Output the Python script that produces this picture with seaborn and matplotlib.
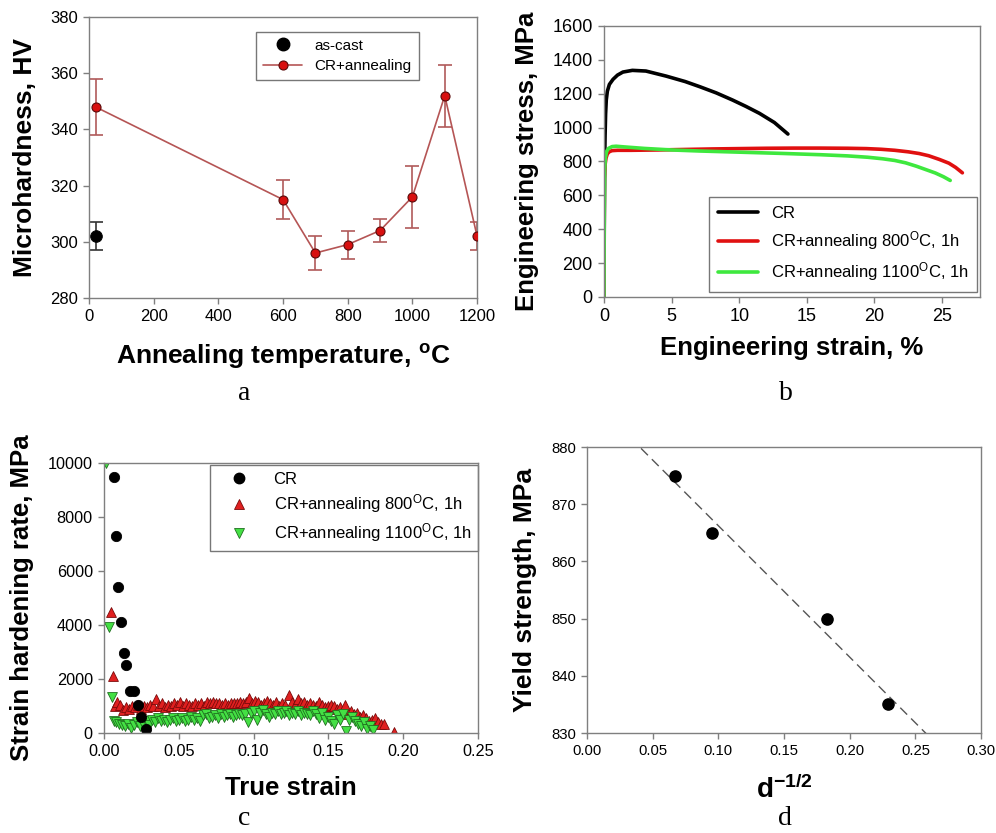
import numpy as np
import pandas as pd
import matplotlib
matplotlib.use("Agg")
import matplotlib.pyplot as plt
import seaborn as sns
from matplotlib.lines import Line2D

# ---------------- data ----------------
# (a) microhardness
temp_anneal = [20, 600, 700, 800, 900, 1000, 1100, 1200]
hv_anneal = [348, 315, 296, 299, 304, 316, 352, 302]
hv_anneal_err = [10, 7, 6, 5, 4, 11, 11, 5]
temp_cast = [20]
hv_cast = [302]
hv_cast_err = [5]

# (b) engineering stress-strain
strain_cr = [0, 0.02, 0.05, 0.08, 0.12, 0.17, 0.25, 0.4, 0.67, 1.0, 1.4, 2.1, 3.1,
             4.6, 6.0, 7.1, 8.3, 9.5, 10.5, 11.5, 12.6, 13.6]
stress_cr = [0, 400, 800, 950, 1080, 1163, 1215, 1255, 1285, 1310, 1328, 1338, 1334,
             1304, 1272, 1241, 1205, 1163, 1125, 1084, 1030, 962]
strain_800 = [0, 0.03, 0.08, 0.15, 0.25, 0.4, 0.6, 1.0, 2, 4, 6, 8, 10, 12, 14, 16,
              18, 19.4, 20.5, 21.5, 22.5, 23.3, 24.0, 24.8, 25.5, 26.0, 26.5]
stress_800 = [0, 700, 780, 820, 845, 858, 864, 866, 866, 868, 871, 874, 876, 878, 879, 879,
              878, 876, 872, 866, 857, 847, 834, 812, 790, 765, 733]
strain_1100 = [0, 0.02, 0.05, 0.1, 0.2, 0.35, 0.6, 0.9, 1.5, 3, 5, 7, 10, 13, 16, 18,
               19.5, 20.6, 21.5, 22.3, 23.1, 23.8, 24.5, 25.1, 25.6]
stress_1100 = [0, 500, 750, 820, 860, 878, 888, 890, 886, 877, 868, 862, 855, 848, 840, 833,
               825, 816, 806, 792, 772, 752, 732, 710, 688]

# (c) strain hardening rate
ts_cr = [0.0067, 0.0082, 0.0096, 0.0116, 0.0134, 0.0149, 0.0174, 0.0200, 0.0227, 0.0250, 0.0278]
shr_cr = [9480, 7280, 5420, 4100, 2980, 2510, 1560, 1560, 1040, 600, 150]

ts_800 = [0.0045, 0.006, 0.0075, 0.009, 0.011, 0.013, 0.015, 0.017, 0.019, 0.021,
          0.023, 0.025, 0.027, 0.029, 0.031, 0.033, 0.035, 0.037, 0.039, 0.041,
          0.043, 0.045, 0.047, 0.049, 0.051, 0.053, 0.055, 0.057, 0.059, 0.061,
          0.063, 0.065, 0.067, 0.069, 0.071, 0.073, 0.075, 0.077, 0.079, 0.081,
          0.083, 0.085, 0.087, 0.089, 0.091, 0.093, 0.095, 0.097, 0.099, 0.101,
          0.103, 0.105, 0.107, 0.109, 0.111, 0.113, 0.115, 0.117, 0.119, 0.121,
          0.124, 0.126, 0.128, 0.130, 0.132, 0.134, 0.136, 0.138, 0.140, 0.142,
          0.144, 0.146, 0.148, 0.150, 0.152, 0.154, 0.156, 0.158, 0.161, 0.163,
          0.165, 0.167, 0.169, 0.171, 0.173, 0.175, 0.177, 0.179, 0.181, 0.183,
          0.185, 0.187, 0.194]
shr_800 = [4470, 2100, 1000, 1150, 1050, 850, 950, 900, 1000, 950,
           1050, 900, 1000, 950, 1050, 1000, 1250, 1000, 1100, 950,
           1050, 1000, 1100, 1050, 1150, 1000, 1100, 1050, 1000, 1100,
           1050, 1100, 1000, 1150, 1100, 1150, 1100, 1100, 1050, 1100,
           1050, 1100, 1100, 1100, 1150, 1100, 1150, 1280, 1100, 1200,
           1150, 1050, 1100, 1200, 1100, 1050, 1150, 1000, 1100, 1050,
           1400, 1150, 1050, 1250, 1100, 1150, 1050, 1100, 1050, 1000,
           1150, 1050, 950, 1000, 1050, 1000, 900, 950, 1030, 700,
           800, 700, 750, 600, 650, 550, 450, 500, 550, 400,
           320, 350, 30]

ts_1100 = [0.0016, 0.0033, 0.0052, 0.0065, 0.008, 0.010, 0.012, 0.014, 0.016, 0.018,
           0.020, 0.022, 0.024, 0.026, 0.028, 0.030, 0.032, 0.034, 0.036, 0.038,
           0.040, 0.042, 0.044, 0.046, 0.048, 0.050, 0.052, 0.054, 0.056, 0.058,
           0.060, 0.062, 0.064, 0.066, 0.068, 0.070, 0.072, 0.074, 0.076, 0.078,
           0.080, 0.082, 0.084, 0.086, 0.088, 0.090, 0.092, 0.094, 0.096, 0.098,
           0.100, 0.102, 0.104, 0.106, 0.108, 0.110, 0.112, 0.114, 0.116, 0.118,
           0.120, 0.122, 0.124, 0.126, 0.128, 0.130, 0.132, 0.134, 0.136, 0.138,
           0.140, 0.142, 0.144, 0.146, 0.148, 0.150, 0.152, 0.154, 0.156, 0.158,
           0.160, 0.162, 0.164, 0.166, 0.168, 0.170, 0.172, 0.174, 0.176, 0.178,
           0.180]
shr_1100 = [10000, 3940, 1340, 450, 400, 350, 300, 250, 350, 200,
            300, 400, 250, 350, 450, 300, 500, 400, 550, 450,
            500, 400, 500, 550, 450, 500, 550, 450, 500, 600,
            500, 550, 450, 650, 700, 550, 600, 650, 550, 700,
            600, 650, 700, 600, 650, 700, 650, 700, 420, 750,
            800, 500, 750, 850, 700, 600, 750, 700, 800, 700,
            750, 800, 650, 750, 700, 800, 650, 750, 700, 650,
            800, 700, 550, 750, 500, 600, 450, 350, 650, 500,
            700, 80, 500, 600, 450, 350, 250, 400, 150, 250,
            100]

# (d) Hall-Petch
d_inv_sqrt = [0.067, 0.095, 0.183, 0.229]
yield_strength = [875, 865, 850, 835]

# ---------------- style ----------------
sns.set_theme(style="white")
plt.rcParams["font.family"] = ["Liberation Sans", "DejaVu Sans"]
plt.rcParams["mathtext.fontset"] = "custom"
plt.rcParams["mathtext.rm"] = "Liberation Sans"
plt.rcParams["mathtext.it"] = "Liberation Sans:italic"
plt.rcParams["mathtext.bf"] = "Liberation Sans:bold"
plt.rcParams["text.color"] = "black"
plt.rcParams["axes.labelcolor"] = "black"
plt.rcParams["xtick.color"] = "black"
plt.rcParams["ytick.color"] = "black"

SPINE = "#7f7f7f"
LBL = 18.5

fig = plt.figure(figsize=(9.96, 8.33), dpi=100)
ax_a = fig.add_axes([0.0894, 0.6423, 0.3896, 0.3373])
ax_b = fig.add_axes([0.6064, 0.6435, 0.3775, 0.3253])
ax_c = fig.add_axes([0.1044, 0.1200, 0.3755, 0.3241])
ax_d = fig.add_axes([0.5894, 0.1200, 0.3956, 0.3433])


def style(ax, tsize):
    for s in ax.spines.values():
        s.set_color(SPINE)
        s.set_linewidth(1.0)
        s.set_visible(True)
    ax.tick_params(axis="both", direction="out", length=4, width=1, color=SPINE,
                   labelsize=tsize, labelcolor="black", bottom=True, left=True,
                   top=False, right=False, pad=4)
    ax.grid(False)
    ax.set_facecolor("white")


# ---------- (a) ----------
df_a = pd.DataFrame({"T": temp_anneal, "HV": hv_anneal})
ax_a.errorbar(temp_anneal, hv_anneal, yerr=hv_anneal_err, fmt="none",
              ecolor="#b05a5a", elinewidth=1.2, capsize=5, capthick=1.2, zorder=2)
ax_a.errorbar(temp_cast, hv_cast, yerr=hv_cast_err, fmt="none",
              ecolor="#333333", elinewidth=1.2, capsize=5, capthick=1.2, zorder=2)
sns.lineplot(data=df_a, x="T", y="HV", ax=ax_a, color="#b55555", linewidth=1.2,
             marker="o", markersize=6.5, markerfacecolor="#d81010",
             markeredgecolor="#5a0a0a", markeredgewidth=0.8, zorder=3)
sns.scatterplot(x=temp_cast, y=hv_cast, ax=ax_a, color="black", s=70,
                edgecolor="black", alpha=1, zorder=4)
ax_a.set_xlim(0, 1200)
ax_a.set_ylim(280, 380)
ax_a.set_xticks(range(0, 1201, 200))
ax_a.set_yticks(range(280, 381, 20))
style(ax_a, 12)
ax_a.set_xlabel(r"Annealing temperature, $^{\mathbf{o}}$C", fontsize=19, fontweight="bold")
ax_a.set_ylabel("Microhardness, HV", fontsize=19, fontweight="bold")
ax_a.xaxis.set_label_coords(0.5, -0.21)
ax_a.xaxis.label.set_va("center")
ax_a.yaxis.set_label_coords(-0.165, 0.5)
ax_a.yaxis.label.set_va("center")
h_a = [Line2D([], [], ls="none", marker="o", ms=9, mfc="black", mec="black"),
       Line2D([], [], color="#b55555", lw=1.2, marker="o", ms=6.5, mfc="#d81010",
              mec="#5a0a0a", mew=0.8)]
leg = ax_a.legend(h_a, ["as-cast", "CR+annealing"], loc="upper left",
                  bbox_to_anchor=(0.43, 0.947), borderaxespad=0, fontsize=11,
                  frameon=True, fancybox=False, edgecolor="#555555", handlelength=2.6,
                  borderpad=0.45, labelspacing=0.4, handletextpad=0.8)
leg.get_frame().set_linewidth(1.0)

# ---------- (b) ----------
df_b = pd.concat([
    pd.DataFrame({"strain": strain_cr, "stress": stress_cr, "grp": "CR"}),
    pd.DataFrame({"strain": strain_800, "stress": stress_800, "grp": "800"}),
    pd.DataFrame({"strain": strain_1100, "stress": stress_1100, "grp": "1100"}),
], ignore_index=True)
sns.lineplot(data=df_b[df_b.grp == "CR"], x="strain", y="stress", ax=ax_b,
             color="black", linewidth=2.6, sort=False, estimator=None)
sns.lineplot(data=df_b[df_b.grp == "800"], x="strain", y="stress", ax=ax_b,
             color="#e01010", linewidth=2.6, sort=False, estimator=None)
sns.lineplot(data=df_b[df_b.grp == "1100"], x="strain", y="stress", ax=ax_b,
             color="#3ee83e", linewidth=2.6, sort=False, estimator=None)
ax_b.set_xlim(0, 27.8)
ax_b.set_ylim(0, 1600)
ax_b.set_xticks(range(0, 26, 5))
ax_b.set_yticks(range(0, 1601, 200))
style(ax_b, 13)
ax_b.set_xlabel("Engineering strain, %", fontsize=LBL, fontweight="bold")
ax_b.set_ylabel("Engineering stress, MPa", fontsize=LBL, fontweight="bold")
ax_b.xaxis.set_label_coords(0.5, -0.19)
ax_b.xaxis.label.set_va("center")
ax_b.yaxis.set_label_coords(-0.205, 0.5)
ax_b.yaxis.label.set_va("center")
h_b = [Line2D([], [], color="black", lw=2.6),
       Line2D([], [], color="#e01010", lw=2.6),
       Line2D([], [], color="#3ee83e", lw=2.6)]
leg = ax_b.legend(h_b, ["CR", r"CR+annealing 800$^{\mathrm{O}}$C, 1h",
                        r"CR+annealing 1100$^{\mathrm{O}}$C, 1h"],
                  loc="lower right", bbox_to_anchor=(0.992, 0.02), borderaxespad=0,
                  fontsize=12, frameon=True, fancybox=False, edgecolor="#555555",
                  handlelength=2.4, borderpad=0.5, labelspacing=0.5, handletextpad=0.8)
leg.get_frame().set_linewidth(1.0)

# ---------- (c) ----------
sns.scatterplot(x=ts_800, y=shr_800, ax=ax_c, marker="^", s=50, color="#e02020",
                edgecolor="#7a0a0a", linewidth=0.6, alpha=1, zorder=3)
sns.scatterplot(x=ts_1100, y=shr_1100, ax=ax_c, marker="v", s=50, color="#44e044",
                edgecolor="#1f6f1f", linewidth=0.6, alpha=1, zorder=4)
sns.scatterplot(x=ts_cr, y=shr_cr, ax=ax_c, marker="o", s=55, color="black",
                edgecolor="black", alpha=1, zorder=5)
ax_c.set_xlim(0, 0.25)
ax_c.set_ylim(0, 10000)
ax_c.set_xticks(np.arange(0, 0.251, 0.05))
ax_c.set_xticklabels(["0.00", "0.05", "0.10", "0.15", "0.20", "0.25"])
ax_c.set_yticks(range(0, 10001, 2000))
style(ax_c, 11.7)
for sp in ax_c.spines.values():
    sp.set_zorder(10)
ax_c.set_xlabel("True strain", fontsize=LBL, fontweight="bold")
ax_c.set_ylabel("Strain hardening rate, MPa", fontsize=LBL, fontweight="bold")
ax_c.xaxis.set_label_coords(0.5, -0.203)
ax_c.xaxis.label.set_va("center")
ax_c.yaxis.set_label_coords(-0.218, 0.5)
ax_c.yaxis.label.set_va("center")
h_c = [Line2D([], [], ls="none", marker="o", ms=7.5, mfc="black", mec="black"),
       Line2D([], [], ls="none", marker="^", ms=7.5, mfc="#e02020", mec="#7a0a0a", mew=0.6),
       Line2D([], [], ls="none", marker="v", ms=7.5, mfc="#44e044", mec="#1f6f1f", mew=0.6)]
leg = ax_c.legend(h_c, ["CR", r"CR+annealing 800$^{\mathrm{O}}$C, 1h",
                        r"CR+annealing 1100$^{\mathrm{O}}$C, 1h"],
                  loc="upper right", bbox_to_anchor=(1.0, 0.993), borderaxespad=0,
                  fontsize=12, frameon=True, fancybox=False, edgecolor="#555555",
                  handlelength=2.6, borderpad=0.4, labelspacing=0.35, handletextpad=0.8)
leg.get_frame().set_linewidth(1.0)

# ---------- (d) ----------
ax_d.set_xlim(0, 0.30)
ax_d.set_ylim(830, 880)
sns.regplot(x=d_inv_sqrt, y=yield_strength, ax=ax_d, ci=None, truncate=False,
            scatter_kws={"s": 65, "color": "black", "alpha": 1, "zorder": 4},
            line_kws={"color": "#555555", "lw": 1.0, "ls": (0, (7, 4)), "zorder": 3})
ax_d.set_xlim(0, 0.30)
ax_d.set_ylim(830, 880)
ax_d.set_xticks(np.arange(0, 0.301, 0.05))
ax_d.set_xticklabels(["0.00", "0.05", "0.10", "0.15", "0.20", "0.25", "0.30"])
ax_d.set_yticks(range(830, 881, 10))
style(ax_d, 10.7)
ax_d.set_xlabel(r"$\mathbf{d^{-1/2}}$", fontsize=20, fontweight="bold")
ax_d.set_ylabel("Yield strength, MPa", fontsize=19, fontweight="bold")
ax_d.xaxis.set_label_coords(0.5, -0.2)
ax_d.xaxis.label.set_va("center")
ax_d.yaxis.set_label_coords(-0.157, 0.5)
ax_d.yaxis.label.set_va("center")

# panel letters
for x, y, t in [(0.245, 0.528, "a"), (0.789, 0.528, "b"), (0.245, 0.017, "c"), (0.788, 0.017, "d")]:
    fig.text(x, y, t, ha="center", va="center", fontsize=20,
             family=["Liberation Serif", "DejaVu Serif"])

fig.savefig("out.png", dpi=100)
